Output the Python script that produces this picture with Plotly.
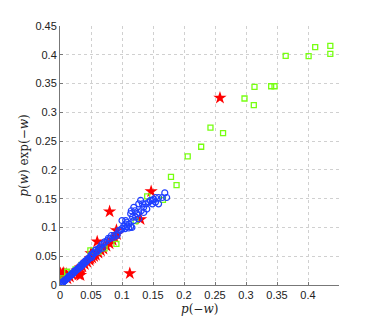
import plotly.graph_objects as go

# green squares
sq_x = [0.4116, 0.436, 0.436, 0.401, 0.364, 0.3137, 0.3406, 0.346, 0.2976, 0.3126,
        0.2427, 0.263, 0.2277, 0.206, 0.179, 0.188, 0.1406, 0.166, 0.122, 0.091,
        0.0718, 0.049, 0.0116, 0.0035, 0.025, 0.018, 0.035, 0.006, 0.062]
sq_y = [0.4133, 0.4155, 0.4017, 0.3977, 0.398, 0.3443, 0.3453, 0.3453, 0.324, 0.3126,
        0.2736, 0.2638, 0.2402, 0.2236, 0.188, 0.1736, 0.154, 0.148, 0.111, 0.0713,
        0.0638, 0.060, 0.023, 0.0115, 0.027, 0.020, 0.035, 0.008, 0.058]

# red stars
st_x = [0.258, 0.147, 0.080, 0.130, 0.091, 0.1126, 0.060, 0.0315, 0.030, 0.033,
        0.001, 0.004, 0.008, 0.002, 0.006, 0.010, 0.003,
        0.012, 0.016, 0.020, 0.025, 0.028, 0.033, 0.036, 0.040, 0.044, 0.048,
        0.052, 0.055, 0.058, 0.062, 0.066, 0.070, 0.075, 0.080, 0.085, 0.088,
        0.092, 0.050, 0.061, 0.049]
st_y = [0.325, 0.1626, 0.1276, 0.114, 0.095, 0.0201, 0.0753, 0.020, 0.018, 0.017,
        0.020, 0.019, 0.018, 0.015, 0.021, 0.019, 0.012,
        0.011, 0.014, 0.018, 0.022, 0.025, 0.030, 0.032, 0.036, 0.040, 0.043,
        0.047, 0.050, 0.052, 0.056, 0.060, 0.063, 0.068, 0.072, 0.078, 0.083,
        0.088, 0.055, 0.057, 0.046]

# blue circles
ci_x = [0.169, 0.172, 0.165, 0.159, 0.154, 0.151, 0.149, 0.146, 0.154, 0.159,
        0.149, 0.143, 0.138, 0.135, 0.133, 0.130, 0.127, 0.131, 0.127, 0.124,
        0.121, 0.119, 0.115, 0.114, 0.117, 0.119, 0.122, 0.127, 0.135, 0.140,
        0.106, 0.108, 0.111, 0.106, 0.103, 0.108, 0.114, 0.100, 0.098, 0.095,
        0.092, 0.087, 0.081, 0.100, 0.105, 0.111, 0.116, 0.076, 0.087, 0.092,
        0.071, 0.065, 0.057, 0.055, 0.049, 0.068, 0.062, 0.059, 0.053, 0.051,
        0.046, 0.044, 0.042, 0.040, 0.038, 0.036, 0.034, 0.032, 0.030, 0.029,
        0.027, 0.025, 0.024, 0.022, 0.020, 0.018, 0.017, 0.015, 0.013, 0.012,
        0.010, 0.008, 0.007, 0.005, 0.004, 0.002, 0.001, 0.003, 0.006, 0.009,
        0.014, 0.019, 0.023, 0.028, 0.033, 0.037, 0.041, 0.045, 0.050, 0.054,
        0.058, 0.063, 0.067, 0.072, 0.078, 0.083]
ci_y = [0.160, 0.152, 0.152, 0.152, 0.152, 0.149, 0.147, 0.147, 0.144, 0.141,
        0.141, 0.144, 0.141, 0.135, 0.141, 0.147, 0.141, 0.129, 0.126, 0.124,
        0.129, 0.135, 0.129, 0.124, 0.118, 0.112, 0.118, 0.115, 0.126, 0.132,
        0.112, 0.109, 0.106, 0.106, 0.103, 0.101, 0.101, 0.098, 0.095, 0.095,
        0.089, 0.086, 0.081, 0.112, 0.098, 0.099, 0.100, 0.077, 0.083, 0.086,
        0.072, 0.066, 0.060, 0.055, 0.049, 0.064, 0.060, 0.057, 0.052, 0.048,
        0.045, 0.043, 0.040, 0.039, 0.036, 0.035, 0.032, 0.031, 0.029, 0.028,
        0.026, 0.025, 0.023, 0.021, 0.019, 0.018, 0.016, 0.015, 0.013, 0.011,
        0.010, 0.008, 0.007, 0.005, 0.004, 0.002, 0.001, 0.004, 0.007, 0.009,
        0.015, 0.020, 0.024, 0.028, 0.034, 0.038, 0.042, 0.046, 0.052, 0.056,
        0.061, 0.064, 0.070, 0.075, 0.081, 0.086]

x_ticks = [0, 0.05, 0.1, 0.15, 0.2, 0.25, 0.3, 0.35, 0.4]
y_ticks = [0, 0.05, 0.1, 0.15, 0.2, 0.25, 0.3, 0.35, 0.4, 0.45]

fig = go.Figure()

fig.add_trace(
    go.Scatter(
        x=st_x, y=st_y, mode="markers",
        marker={"symbol": "star", "size": 10, "color": "#ff0000", "line": {"width": 0}},
    )
)
fig.add_trace(
    go.Scatter(
        x=sq_x, y=sq_y, mode="markers",
        marker={"symbol": "square-open", "size": 5, "color": "#77ff11", "line": {"width": 1.3}},
    )
)
fig.add_trace(
    go.Scatter(
        x=ci_x, y=ci_y, mode="markers",
        marker={"symbol": "circle-open", "size": 6, "color": "#1f3fff", "line": {"width": 1.2}},
    )
)

axis_common = {
    "showgrid": True,
    "gridcolor": "#d0d0d0",
    "griddash": "dot",
    "gridwidth": 1,
    "zeroline": False,
    "showline": True,
    "linecolor": "#777777",
    "linewidth": 1,
    "ticks": "inside",
    "ticklen": 3,
    "tickcolor": "#777777",
    "tickfont": {"family": "Liberation Sans, Arial", "size": 11, "color": "#222222"},
}

# page body has an 8px margin, so the margins are shifted to compensate
fig.update_layout(
    width=374,
    height=320,
    showlegend=False,
    plot_bgcolor="white",
    paper_bgcolor="white",
    margin={"l": 52, "r": 43, "t": 16, "b": 43},
    xaxis={
        **axis_common,
        "range": [0, 0.45],
        "tickvals": x_ticks,
        "ticktext": [str(v) for v in x_ticks],
    },
    yaxis={
        **axis_common,
        "range": [0, 0.45],
        "tickvals": y_ticks,
        "ticktext": [str(v) for v in y_ticks],
        "title": {"text": "<i>p</i>(<i>w</i>) exp(−<i>w</i>)", "standoff": 4,
                  "font": {"family": "DejaVu Serif", "size": 12, "color": "#222222"}},
    },
    annotations=[
        {
            "text": "<i>p</i>(−<i>w</i>)",
            "xref": "paper", "yref": "paper",
            "x": 0.5, "y": -0.093,
            "xanchor": "center", "yanchor": "middle",
            "showarrow": False,
            "font": {"family": "DejaVu Serif", "size": 12, "color": "#222222"},
        }
    ],
)

fig.write_html("out.html")
